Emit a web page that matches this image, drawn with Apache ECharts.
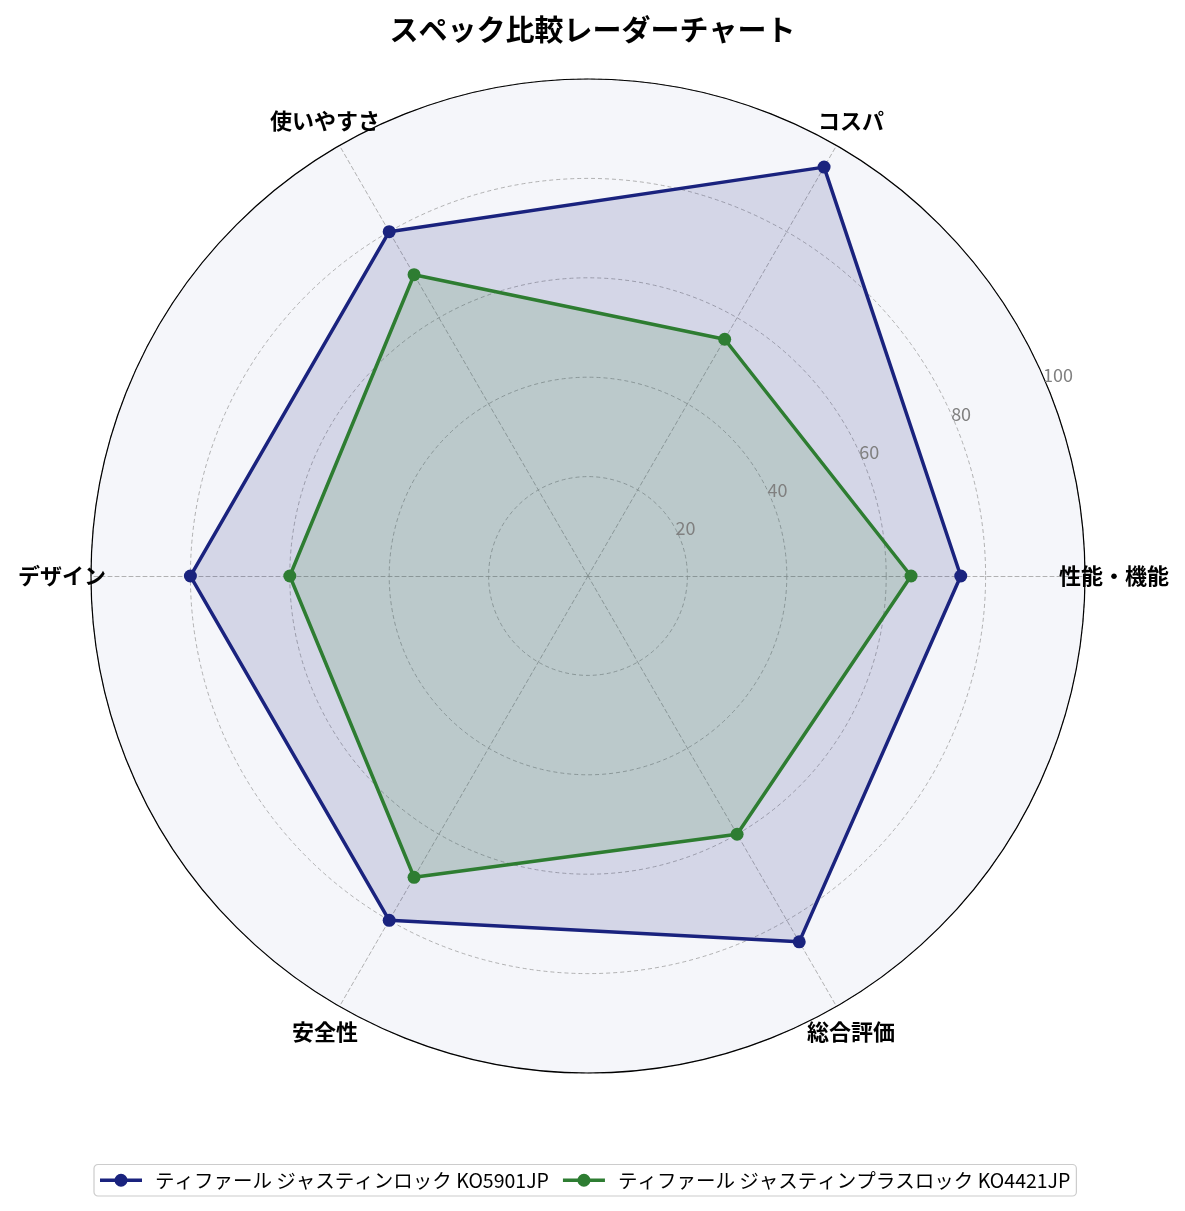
<!DOCTYPE html>
<html>
<head>
<meta charset="utf-8">
<script src="https://cdn.jsdelivr.net/npm/echarts@6/dist/echarts.min.js"></script>
<style>
  html, body { margin: 0; padding: 0; background: #fff; }
  #main { width: 1185px; height: 1211px; }
</style>
</head>
<body>
<div id="main"></div>
<script>
// 軸の名前（右から反時計回り）
const indicators = ['性能・機能', 'コスパ', '使いやすさ', 'デザイン', '安全性', '総合評価'];
const seriesNames = [
  'ティファール ジャスティンロック KO5901JP',
  'ティファール ジャスティンプラスロック KO4421JP'
];
const valuesLock = [75, 95, 80, 80, 80, 85];
const valuesPlusLock = [65, 55, 70, 60, 70, 60];
const tickValues = [20, 40, 60, 80, 100];

const navy = '#1a237e';
const green = '#2e7d32';
const font = '"Noto Sans CJK JP", "Noto Sans", sans-serif';

// 凡例アイコン（線＋丸）
const legendIcon = 'path://M0,5.25h42v3.5h-42z M14.5,7a6.5,6.5 0 1,1 13,0a6.5,6.5 0 1,1 -13,0z';

const myChart = echarts.init(document.getElementById('main'), null, { renderer: 'canvas' });

const option = {
  animation: false,
  backgroundColor: '#ffffff',
  textStyle: { fontFamily: font },
  title: {
    text: 'スペック比較レーダーチャート',
    left: 'center',
    top: 10,
    textStyle: { fontFamily: font, fontSize: 29, fontWeight: 'bold', color: '#000' }
  },
  legend: {
    bottom: 15,
    left: 94,
    data: seriesNames,
    icon: legendIcon,
    itemWidth: 42,
    itemHeight: 14,
    itemGap: 14,
    padding: [6, 6],
    borderColor: '#cccccc',
    borderWidth: 1.2,
    borderRadius: 4,
    textStyle: { fontFamily: font, fontSize: 19.5, color: '#000', padding: [0, 0, 0, 8] }
  },
  polar: {
    center: [588, 576],
    radius: 497
  },
  angleAxis: {
    type: 'value',
    min: 0,
    max: 360,
    startAngle: 22.5,
    axisLine: { show: true, lineStyle: { color: '#000', width: 1.2 } },
    axisTick: { show: false },
    axisLabel: { show: false },
    splitLine: { show: false }
  },
  radiusAxis: {
    type: 'value',
    min: 0,
    max: 100,
    interval: 20,
    z: 5,
    axisLine: { show: false },
    axisTick: { show: false },
    splitLine: { show: false },
    axisLabel: {
      color: '#808080',
      fontSize: 18,
      fontFamily: font,
      margin: 11,
      align: 'left',
      showMinLabel: false,
      formatter: function (v) { return tickValues.indexOf(v) >= 0 ? String(v) : ''; }
    }
  },
  radar: {
    center: [588, 576],
    radius: 497,
    startAngle: 0,
    shape: 'circle',
    splitNumber: 5,
    indicator: indicators.map(n => ({ name: n, min: 0, max: 100 })),
    nameGap: 29,
    axisName: {
      color: '#000',
      fontSize: 22,
      fontWeight: 'bold',
      fontFamily: font,
      align: 'center',
      verticalAlign: 'middle'
    },
    splitArea: { show: true, areaStyle: { color: ['#f5f6fa'] } },
    splitLine: { lineStyle: { color: '#a0a0a0', type: [4, 3], width: 0.8 } },
    axisLine: { lineStyle: { color: '#a0a0a0', type: [4, 3], width: 0.8 } }
  },
  series: [
    {
      name: seriesNames[0],
      type: 'radar',
      symbol: 'circle',
      symbolSize: 13,
      z: 3,
      lineStyle: { color: navy, width: 3.5 },
      itemStyle: { color: navy },
      areaStyle: { color: navy, opacity: 0.15 },
      data: [{ value: valuesLock, name: seriesNames[0] }]
    },
    {
      name: seriesNames[1],
      type: 'radar',
      symbol: 'circle',
      symbolSize: 13,
      z: 4,
      lineStyle: { color: green, width: 3.5 },
      itemStyle: { color: green },
      areaStyle: { color: green, opacity: 0.15 },
      data: [{ value: valuesPlusLock, name: seriesNames[1] }]
    }
  ]
};

myChart.setOption(option);
window.addEventListener('resize', myChart.resize);
</script>
</body>
</html>
